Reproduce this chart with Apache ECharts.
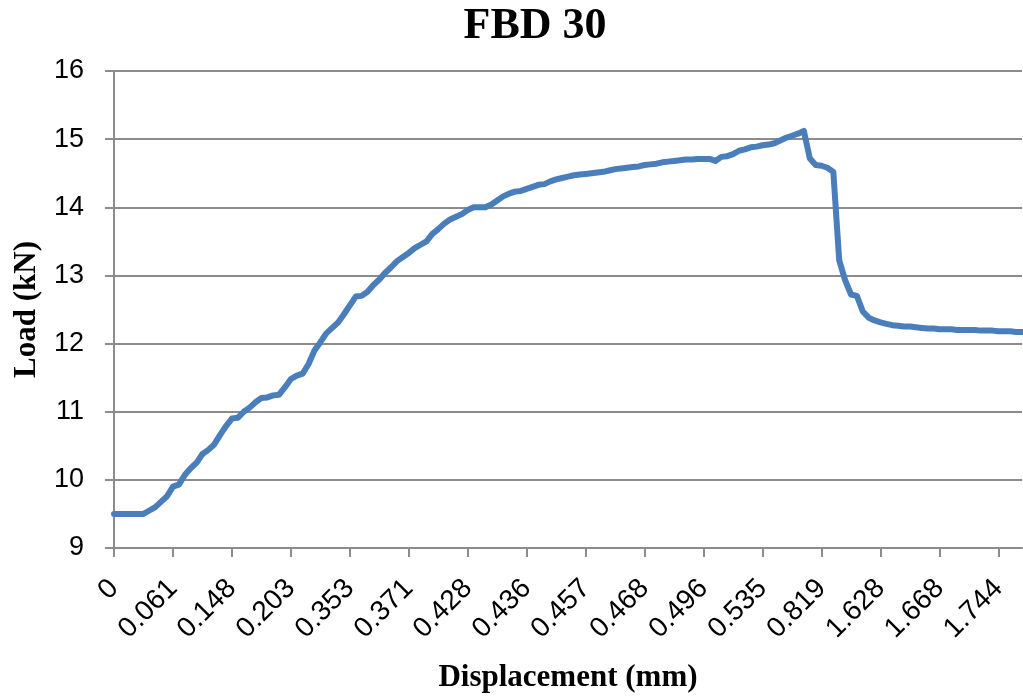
<!DOCTYPE html>
<html>
<head>
<meta charset="utf-8">
<script src="https://cdn.jsdelivr.net/npm/echarts@6/dist/echarts.min.js"></script>
<style>
html,body{margin:0;padding:0;background:#fff;}
#chart{width:1023px;height:696px;}
</style>
</head>
<body>
<div id="chart"></div>
<script>
// Tick labels shown every 10 points on the category axis (displacement, mm)
var xTickLabels = ['0','0.061','0.148','0.203','0.353','0.371','0.428','0.436','0.457','0.468','0.496','0.535','0.819','1.628','1.668','1.744'];

// Load (kN), one value per recorded point (155 points)
var loadValues = [
  9.50, 9.50, 9.50, 9.50, 9.50, 9.50, 9.55, 9.60, 9.68, 9.76,
  9.90, 9.93, 10.07, 10.17, 10.25, 10.38, 10.44, 10.52, 10.66, 10.79,
  10.90, 10.91, 11.00, 11.06, 11.14, 11.20, 11.21, 11.24, 11.25, 11.36,
  11.48, 11.53, 11.56, 11.70, 11.90, 12.02, 12.15, 12.23, 12.31, 12.43,
  12.56, 12.69, 12.70, 12.76, 12.86, 12.94, 13.04, 13.12, 13.21, 13.27,
  13.33, 13.40, 13.45, 13.50, 13.61, 13.68, 13.76, 13.82, 13.86, 13.90,
  13.96, 14.00, 14.00, 14.00, 14.04, 14.10, 14.16, 14.20, 14.23, 14.24,
  14.27, 14.30, 14.33, 14.34, 14.38, 14.41, 14.43, 14.45, 14.47, 14.48,
  14.49, 14.50, 14.51, 14.52, 14.54, 14.56, 14.57, 14.58, 14.59, 14.60,
  14.62, 14.63, 14.64, 14.66, 14.67, 14.68, 14.69, 14.70, 14.70, 14.71,
  14.71, 14.71, 14.68, 14.74, 14.75, 14.78, 14.83, 14.85, 14.88, 14.89,
  14.91, 14.92, 14.94, 14.98, 15.02, 15.05, 15.08, 15.12, 14.72, 14.62,
  14.61, 14.58, 14.52, 13.22, 12.93, 12.72, 12.70, 12.47, 12.38, 12.34,
  12.31, 12.29, 12.27, 12.26, 12.25, 12.25, 12.24, 12.23, 12.22, 12.22,
  12.21, 12.21, 12.21, 12.20, 12.20, 12.20, 12.20, 12.19, 12.19, 12.19,
  12.18, 12.18, 12.18, 12.17, 12.17
];

var yMin = 9, yMax = 16, yStep = 1;
var labelEvery = 10;

var categories = loadValues.map(function (v, i) { return String(i); });

var chart = echarts.init(document.getElementById('chart'), null, {renderer: 'canvas'});
var gridColor = '#8c8c8c';
chart.setOption({
  animation: false,
  backgroundColor: '#ffffff',
  title: {
    text: 'FBD 30',
    left: 530,
    top: 0,
    textAlign: 'center',
    textStyle: {fontFamily: 'Liberation Serif', fontWeight: 'bold', fontSize: 44, color: '#000'}
  },
  grid: {left: 114, right: 1, top: 71, bottom: 148, containLabel: false, outerBoundsMode: 'none'},
  xAxis: {
    type: 'category',
    data: categories,
    boundaryGap: false,
    name: 'Displacement (mm)',
    nameLocation: 'middle',
    nameGap: 114,
    nameTextStyle: {fontFamily: 'Liberation Serif', fontWeight: 'bold', fontSize: 31, color: '#000'},
    axisLine: {show: true, lineStyle: {color: gridColor, width: 2}},
    axisTick: {show: true, interval: labelEvery - 1, length: 9, lineStyle: {color: gridColor, width: 2}},
    axisLabel: {
      interval: labelEvery - 1,
      rotate: 45,
      margin: 36,
      fontFamily: 'Liberation Sans',
      fontSize: 28,
      color: '#000',
      formatter: function (value, index) {
        var k = index / labelEvery;
        return xTickLabels[k] !== undefined ? xTickLabels[k] : '';
      }
    },
    splitLine: {show: false}
  },
  yAxis: {
    type: 'value',
    min: yMin,
    max: yMax,
    interval: yStep,
    name: 'Load (kN)',
    nameLocation: 'middle',
    nameGap: 72,
    nameRotate: 90,
    nameTextStyle: {fontFamily: 'Liberation Serif', fontWeight: 'bold', fontSize: 31, color: '#000'},
    axisLine: {show: true, lineStyle: {color: gridColor, width: 2}},
    axisTick: {show: true, length: 9, lineStyle: {color: gridColor, width: 2}},
    axisLabel: {margin: 30, fontFamily: 'Liberation Sans', fontSize: 27, color: '#000'},
    splitLine: {show: true, lineStyle: {color: gridColor, width: 2}}
  },
  series: [{
    type: 'line',
    data: loadValues,
    showSymbol: false,
    symbol: 'none',
    smooth: false,
    lineStyle: {color: '#4a7ebb', width: 6, join: 'round', cap: 'round'},
    itemStyle: {color: '#4a7ebb'}
  }]
});
</script>
</body>
</html>
